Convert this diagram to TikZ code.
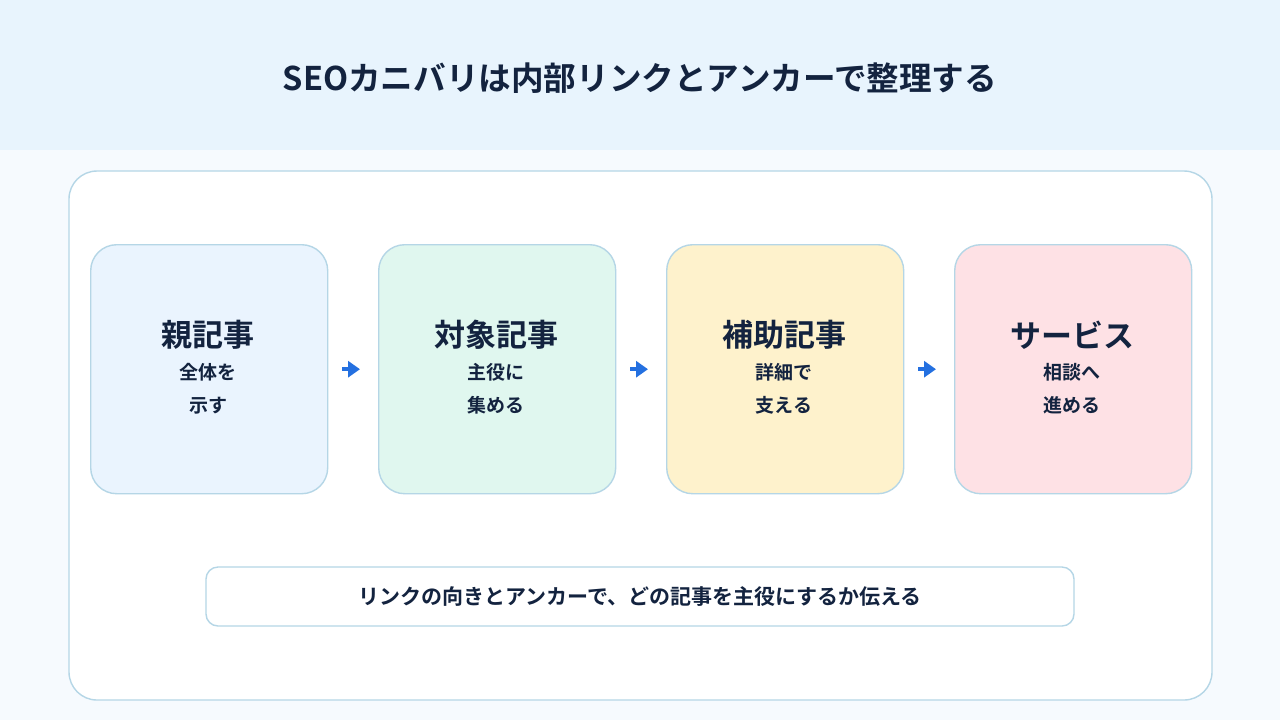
\documentclass[tikz,border=0pt]{standalone}
\usepackage{fontspec}
\setmainfont{Noto Sans CJK JP}[BoldFont={* Bold}]
\usetikzlibrary{arrows.meta}
\definecolor{ink}{HTML}{13233F}
\definecolor{boxline}{HTML}{B5D6E6}
\definecolor{arrblue}{HTML}{2470E0}
\definecolor{c1}{HTML}{EAF4FE}
\definecolor{c2}{HTML}{E0F7EF}
\definecolor{c3}{HTML}{FEF2CC}
\definecolor{c4}{HTML}{FEE1E5}
\definecolor{bg}{HTML}{F6FAFE}
\definecolor{band}{HTML}{E8F4FD}
\begin{document}
\begin{tikzpicture}[x=0.5pt,y=-0.5pt,
  box/.style={draw=boxline,line width=0.7pt,rounded corners=13pt,minimum width=118.5pt,minimum height=124.5pt,anchor=north west,align=center,text=ink},
  arr/.style={draw=arrblue,line width=2pt,-{Triangle[length=6pt,width=8pt]}}]
\path[use as bounding box,fill=bg] (0,0) rectangle (1280,720);
\fill[band] (0,0) rectangle (1280,150);
\node[text=ink,font=\bfseries\fontsize{16.3}{18}\selectfont] (title) at (640,78) {SEOカニバリは内部リンクとアンカーで整理する};
\draw[boxline,fill=white,line width=0.7pt,rounded corners=14pt] (69,171) rectangle (1212,700);
\foreach \n/\x/\c/\t/\s in {a/90/c1/親記事/全体を\\示す, b/378/c2/対象記事/主役に\\集める, c/666/c3/補助記事/詳細で\\支える, d/954/c4/サービス/相談へ\\進める}{
  \node[box,fill=\c] (\n) at (\x,244) {};
  \node[text=ink,font=\bfseries\fontsize{15.5}{18}\selectfont] (\n t) at (\x+118,335) {\t};
  \node[text=ink,font=\bfseries\fontsize{9.5}{16.5}\selectfont,align=center] (\n s) at (\x+118,389) {\s};
}
\draw[arr,shorten <=7pt,shorten >=9pt] (a.east) -- (b.west);
\draw[arr,shorten <=7pt,shorten >=9pt] (b.east) -- (c.west);
\draw[arr,shorten <=7pt,shorten >=9pt] (c.east) -- (d.west);
\node[draw=boxline,fill=white,line width=0.7pt,rounded corners=6pt,minimum width=434pt,minimum height=29.5pt,text=ink,font=\bfseries\fontsize{10.5}{12}\selectfont] (note) at (640,596.5) {リンクの向きとアンカーで、どの記事を主役にするか伝える};
\end{tikzpicture}
\end{document}
